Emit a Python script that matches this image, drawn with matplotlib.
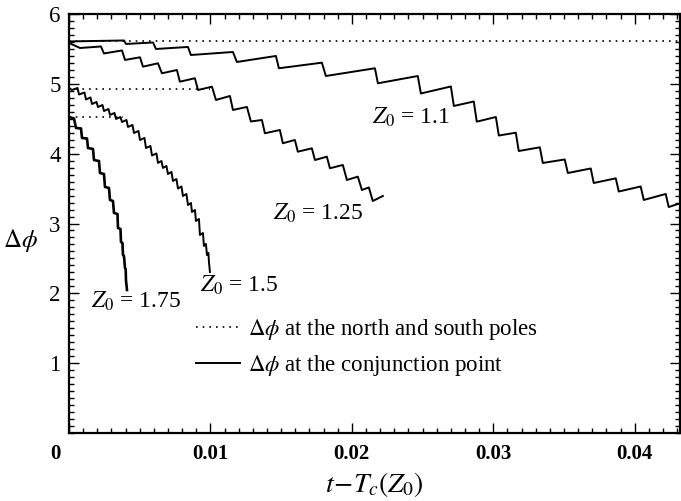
import matplotlib
matplotlib.use("Agg")
import matplotlib.pyplot as plt
import numpy as np
from matplotlib.ticker import MultipleLocator
from matplotlib.transforms import ScaledTranslation

plt.rcParams['font.family'] = 'serif'
plt.rcParams['font.serif'] = ['Liberation Serif', 'DejaVu Serif']
plt.rcParams['mathtext.fontset'] = 'stix'

# time axis values below are in units of 1e-3
# Z0 = 1.1
z11_t = [0.0, 3.89, 4.03, 5.94, 6.15, 8.41, 8.62, 11.59, 11.87, 14.63, 14.84,
         17.88, 18.16, 21.63, 21.84, 24.66, 24.88, 27.00, 27.21, 28.62, 28.83,
         30.18, 30.39, 31.59, 31.80, 33.29, 33.50, 35.05, 35.27, 36.89, 37.10,
         38.66, 38.87, 40.42, 40.64, 42.19, 42.40, 43.18]
z11_phi = [5.607, 5.621, 5.571, 5.592, 5.499, 5.528, 5.413, 5.456, 5.313, 5.399,
           5.223, 5.303, 5.112, 5.223, 5.008, 5.112, 4.862, 4.962, 4.683, 4.747,
           4.458, 4.525, 4.260, 4.300, 4.038, 4.091, 3.867, 3.917, 3.723, 3.788,
           3.580, 3.647, 3.458, 3.530, 3.337, 3.423, 3.236, 3.287]

# Z0 = 1.25
z125_t = [0.0, 0.78, 2.26, 2.47, 3.75, 3.96, 5.02, 5.23, 6.29, 6.57, 7.63, 7.84,
          8.90, 9.12, 10.11, 10.39, 11.38, 11.59, 12.58, 12.86, 13.64, 13.85,
          14.91, 15.12, 15.97, 16.18, 17.17, 17.39, 18.23, 18.45, 19.36, 19.65,
          20.42, 20.71, 21.20, 21.48, 22.19]
z125_phi = [5.585, 5.513, 5.535, 5.435, 5.478, 5.342, 5.380, 5.246, 5.294, 5.151,
            5.198, 5.031, 5.080, 4.912, 4.959, 4.769, 4.826, 4.626, 4.669, 4.461,
            4.482, 4.292, 4.339, 4.149, 4.196, 4.028, 4.077, 3.909, 3.957, 3.791,
            3.838, 3.623, 3.671, 3.480, 3.516, 3.322, 3.394]

# Z0 = 1.5
z15_t = [0.0, 0.21, 0.601, 0.707, 1.095, 1.201, 1.519, 1.625, 1.943, 2.049,
         2.367, 2.473, 2.792, 2.898, 3.216, 3.322, 3.640, 3.746, 4.064, 4.170,
         4.488, 4.594, 4.912, 5.018, 5.336, 5.442, 5.760, 5.866, 6.184, 6.290,
         6.537, 6.643, 6.890, 6.996, 7.244, 7.350, 7.597, 7.703, 7.951, 8.057,
         8.304, 8.410, 8.622, 8.693, 8.905, 8.975, 9.187, 9.258, 9.470, 9.541,
         9.682, 9.753, 9.859, 9.894, 9.965]
z15_phi = [4.941, 4.912, 4.941, 4.847, 4.876, 4.776, 4.805, 4.711, 4.740, 4.668,
           4.697, 4.611, 4.640, 4.554, 4.583, 4.497, 4.525, 4.454, 4.482, 4.382,
           4.411, 4.296, 4.325, 4.196, 4.225, 4.081, 4.110, 3.974, 4.003, 3.867,
           3.895, 3.795, 3.824, 3.709, 3.738, 3.609, 3.637, 3.501, 3.530, 3.394,
           3.423, 3.265, 3.294, 3.165, 3.193, 3.036, 3.065, 2.835, 2.864, 2.678,
           2.707, 2.549, 2.578, 2.449, 2.306]

# Z0 = 1.75
z175_t = [0.0, 0.353, 0.495, 0.848, 0.919, 1.272, 1.343, 1.696, 1.767, 2.120,
          2.191, 2.473, 2.544, 2.827, 2.898, 3.110, 3.180, 3.428, 3.463, 3.640,
          3.675, 3.781, 3.816, 3.887, 3.958, 4.007, 4.028, 4.099]
z175_phi = [4.525, 4.504, 4.368, 4.361, 4.225, 4.217, 4.081, 4.067, 3.909, 3.895,
            3.723, 3.709, 3.523, 3.509, 3.337, 3.322, 3.151, 3.136, 2.936, 2.921,
            2.735, 2.721, 2.549, 2.535, 2.363, 2.349, 2.191, 2.048]

# delta phi at the poles (constant), and where each one stops
pole_phi = [5.62, 4.93, 4.53]
pole_end = [43.2, 10.0, 3.8]

labels = ["$Z_0$ = 1.1", "$Z_0$ = 1.25", "$Z_0$ = 1.5", "$Z_0$ = 1.75"]
label_t = [24.2, 17.6, 12.0, 4.75]
label_phi = [4.52, 3.14, 2.12, 1.88]

fig = plt.figure(figsize=(6.81, 5.01), dpi=100)
ax = fig.add_axes([69/681, 68/501, 611/681, 419/501])

s = 1e-3
for i, (lvl, end) in enumerate(zip(pole_phi, pole_end)):
    ax.plot([0, end*s], [lvl, lvl], color='black', lw=1.2, ls=(0, (1, 3)),
            label=r"$\Delta\phi$ at the north and south poles" if i == 0 else None)

ax.plot(np.array(z11_t)*s, z11_phi, color='black', lw=1.4,
        label=r"$\Delta\phi$ at the conjunction point")
ax.plot(np.array(z125_t)*s, z125_phi, color='black', lw=1.4)
ax.plot(np.array(z15_t)*s, z15_phi, color='black', lw=1.4)
ax.plot(np.array(z175_t)*s, z175_phi, color='black', lw=1.9)

for txt, tx, ty in zip(labels, label_t, label_phi):
    ax.text(tx*s, ty, txt, fontsize=17, ha='center', va='center')

ax.set_xlim(0, 0.0432)
ax.set_ylim(0, 6)
ax.set_xticks([0, 0.01, 0.02, 0.03, 0.04])
ax.set_xticklabels(['0', '0.01', '0.02', '0.03', '0.04'], fontweight='bold')
ax.set_yticks([1, 2, 3, 4, 5, 6])
ax.set_yticklabels(['1', '2', '3', '4', '5', '6'])
ax.xaxis.set_minor_locator(MultipleLocator(0.001))
ax.yaxis.set_minor_locator(MultipleLocator(0.1))
ax.tick_params(which='both', direction='in', top=True, right=True, width=1.0)
ax.tick_params(which='major', length=7)
ax.tick_params(which='minor', length=3.5)
ax.tick_params(axis='x', pad=8, labelsize=15)
ax.tick_params(axis='y', pad=6, labelsize=16.5)
for sp in ax.spines.values():
    sp.set_linewidth(1.6)

# the "0" sits left of the corner in the original
lab0 = ax.get_xticklabels()[0]
lab0.set_transform(lab0.get_transform() + ScaledTranslation(-0.14, 0, fig.dpi_scale_trans))

ax.set_xlabel(r"$t\!-\!T_c(Z_0)$", fontsize=20, labelpad=4)
ax.set_ylabel(r"$\Delta\phi$", fontsize=18, rotation=0, va='center', ha='center')
ax.yaxis.set_label_coords(-0.08, 0.46)

ax.legend(loc='upper left', bbox_to_anchor=(0.208, 0.277), frameon=False,
          fontsize=16.5, handlelength=1.9, handletextpad=0.35, labelspacing=0.5,
          borderpad=0, borderaxespad=0)

plt.savefig("out.png", dpi=100)
